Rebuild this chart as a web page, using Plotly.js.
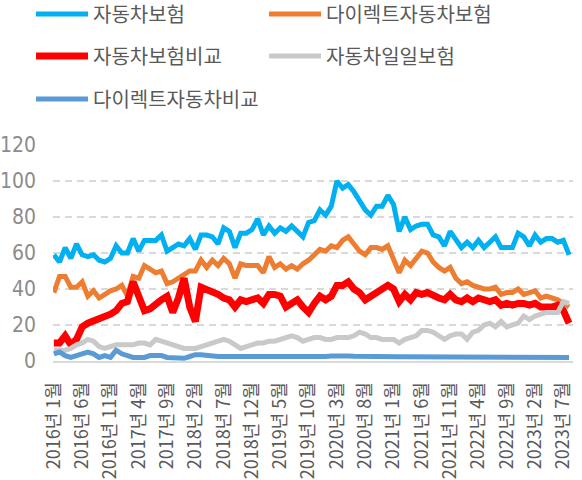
<!DOCTYPE html>
<html>
<head>
<meta charset="utf-8">
<script src="https://cdn.plot.ly/plotly-3.0.1.min.js"></script>
<style>html,body{margin:0;padding:0;background:#fff;}#chart{width:582px;height:480px;}</style>
</head>
<body>
<div id="chart"></div>
<script>
// Categories: monthly, 2016-01 .. 2023-08
var years = [2016, 2017, 2018, 2019, 2020, 2021, 2022, 2023];
var months = [];
years.forEach(function (y) {
  for (var m = 1; m <= 12; m++) {
    if (y === 2023 && m > 8) break;
    months.push(y + '년 ' + m + '월');
  }
});

var seriesNames = ['자동차보험', '다이렉트자동차보험', '자동차보험비교', '자동차일일보험', '다이렉트자동차비교'];

var carInsurance = [59,55,63,57,65,59,58,59,56,55,57,64,60,60,68,61,67,67,67,70,61,63,65,64,68,62,70,70,69,65,74,72,63,71,71,73,79,70,75,71,74,72,75,72,69,77,78,84,81,86,100,96,98,94,89,84,81,86,86,92,87,72,80,73,75,76,76,70,69,64,72,67,63,66,63,67,63,66,69,63,63,63,71,69,64,70,66,68,68,66,67,59];

var directCarInsurance = [38,47,47,41,41,44,36,39,35,37,39,40,42,36,47,46,53,51,49,50,43,44,46,48,
  50,50,56,52,56,53,57,54,46,54,53,53,53,49,58,52,54,51,53,51,
  54,56,59,62,61,64,63,67,69,65,61,59,63,63,62,64,57,49,56,53,57,61,60,55,52,50,
  52,46,43,44,42,41,40,40,41,37,38,38,40,37,38,39,35,36,35,34,32,30];

var carInsuranceCompare = [10,10,14,9,12,19,21,22,24,25,26,28,32,33,44,36,28,29,32,34,36,27,35,46,
  30,22,41,40,39,37,35,34,30,34,33,34,35,32,37,37,36,30,32,34,30,27,32,
  36,34,36,42,42,44,40,38,34,36,38,39,42,40,33,37,34,38,37,38,36,
  35,34,37,34,33,35,33,35,34,33,34,31,32,31,32,32,31,32,30,30,30,31,28,21];

var dailyCarInsurance = [6,6,6,7,9,10,12,11,8,7,8,9,9,9,9,10,10,9,12,11,10,9,8,7,
  7,7,8,9,10,11,12,11,9,7,8,9,10,10,11,11,12,13,14,13,11,12,13,
  13,12,12,13,13,13,14,16,15,13,13,12,12,
  12,10,12,13,14,17,17,16,14,12,
  14,15,15,12,16,17,20,21,19,22,19,20,21,25,23,25,26,27,27,27,33,32];

var directCarCompare = [4,5,3,2,3,4,5,4,2,3,2,6,4,3,2,2,2,3,3,3,2,2,2,1.5,
  2.5,3.5,3.5,3,2.5,2.5,2.5,2.5,2.5,2.2,2.2,2.2,2.3,2.3,2.2,2.2,2.2,2,2.2,2.2,2.3,2.3,2.5,
  2.5,2.5,2.8,3,2.8,2.8,2.6,2.5,2.5,2.4,2.4,2.5,2.5,2.5,2.4,2.4,2.4,2.3,2.3,2.3,2.2,
  2.2,2.2,2.1,2.1,2.1,2,2,2,2,2,1.9,1.9,1.9,1.9,2,2,2,2,1.9,1.9,1.9,1.9,1.9,1.9];

var yTicks = [0, 20, 40, 60, 80, 100, 120];
var xTickVals = months.filter(function (m, i) { return i % 5 === 0; });

var FONT = "'Liberation Sans Narrow', 'DejaVu Sans Condensed', 'Noto Sans CJK KR', sans-serif";
var LFONT = "'Noto Sans CJK KR', 'Liberation Sans Narrow', sans-serif";

var colors = ['#00B0F0', '#ED7D31', '#FF0000', '#C9C9C9', '#5B9BD5'];
var widths = [5, 5, 7, 5, 5];
var values = [carInsurance, directCarInsurance, carInsuranceCompare, dailyCarInsurance, directCarCompare];
var legendIds = ['legend', 'legend', 'legend2', 'legend2', 'legend3'];

var traces = values.map(function (v, k) {
  return {
    type: 'scatter', mode: 'lines', x: months, y: v, name: seriesNames[k],
    line: {color: colors[k], width: widths[k]},
    legend: legendIds[k], hoverinfo: 'skip'
  };
});

function leg(yc) {
  return {
    orientation: 'h', xref: 'container', yref: 'container',
    x: 31 / 582, xanchor: 'left', y: 1 - yc / 480, yanchor: 'middle',
    bgcolor: 'rgba(0,0,0,0)', itemwidth: 52, entrywidth: 166, entrywidthmode: 'pixels',
    font: {family: LFONT, size: 20, color: '#595959'}, traceorder: 'normal'
  };
}

var layout = {
  width: 582, height: 480,
  margin: {l: 53, r: 9, t: 145, b: 119, pad: 0},
  paper_bgcolor: '#fff', plot_bgcolor: '#fff',
  showlegend: true,
  legend: leg(14), legend2: leg(56), legend3: leg(99),
  xaxis: {
    type: 'category', range: [-0.15, 91.7], tickmode: 'array', tickvals: xTickVals,
    tickangle: -90, ticklabelstandoff: 12, showgrid: false, showline: true,
    linecolor: '#d9d9d9', linewidth: 2, ticks: '', zeroline: false,
    tickfont: {family: LFONT, size: 18, color: '#595959'}, automargin: false
  },
  yaxis: {
    range: [0, 120], tickmode: 'array', tickvals: yTicks, ticks: '',
    showgrid: true, gridcolor: '#d9d9d9', gridwidth: 2, griddash: '7px,5px',
    zeroline: false, showline: false, ticklabelstandoff: 16,
    tickfont: {family: FONT, size: 21, color: '#8c8c8c'}, automargin: false
  }
};

Plotly.newPlot('chart', traces, layout, {staticPlot: true, displayModeBar: false});
</script>
</body>
</html>
